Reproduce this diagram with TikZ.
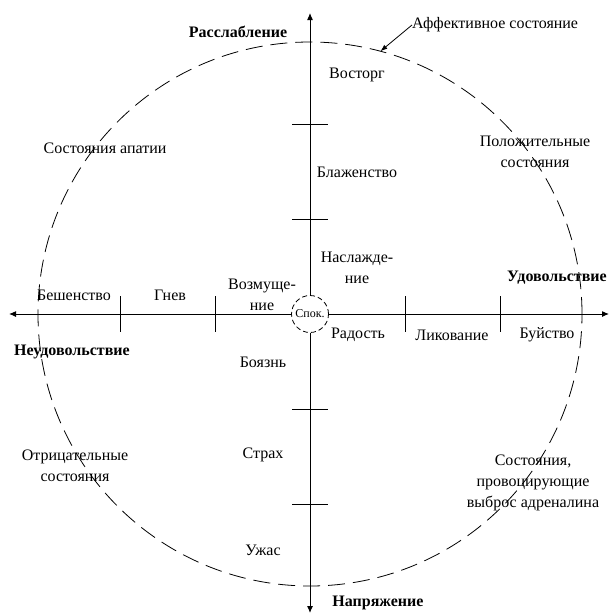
\documentclass[tikz,border=0pt]{standalone}
\usepackage{fontspec}
\setmainfont{Liberation Serif}
\usetikzlibrary{arrows.meta}
\begin{document}
\begin{tikzpicture}[x=1pt,y=-1pt,
  axis/.style={line width=1pt,-{Latex[length=7pt,width=6pt]}},
  tick/.style={line width=1pt},
  lbl/.style={font=\fontsize{16}{21}\selectfont,align=center,inner sep=0pt},
  blbl/.style={font=\fontsize{16}{21}\selectfont\bfseries,align=center,inner sep=0pt}]
\useasboundingbox (0,0) rectangle (610,614);
\coordinate (o) at (310,314);
\draw[line width=0.8pt,dash pattern=on 17pt off 8pt] (o) circle (272pt);
\node[circle,draw,line width=0.8pt,dash pattern=on 5pt off 3pt,minimum size=37pt,inner sep=0pt,
  font=\fontsize{12}{13}\selectfont] (spok) at (o) {Спок.};

% axes
\coordinate (top) at (310,13);
\coordinate (bot) at (310,613);
\coordinate (lft) at (9,314);
\coordinate (rgt) at (609,314);
\draw[axis] (spok) -- (top);
\draw[axis] (spok) -- (bot);
\draw[axis] (spok) -- (lft);
\draw[axis] (spok) -- (rgt);

% ticks
\foreach \d in {95,190}{
\draw[tick] ({310+\d},296) -- ({310+\d},332);
\draw[tick] ({310-\d},296) -- ({310-\d},332);
\draw[tick] (292,{314+\d}) -- (328,{314+\d});
\draw[tick] (292,{314-\d}) -- (328,{314-\d});
}

% poles
\node[blbl] (relax) at (238,32) {Расслабление};
\node[blbl] (tens) at (378,603) {Напряжение};
\node[blbl] (pleas) at (557,278) {Удовольствие};
\node[blbl] (displ) at (72,352) {Неудовольствие};

% states along the axes
\node[lbl] (ecst) at (357,75) {Восторг};
\node[lbl] (bliss) at (357,172) {Блаженство};
\node[lbl] (enjoy) at (357,268) {Наслажде-\\ние};
\node[lbl] (joy) at (358,335) {Радость};
\node[lbl] (exult) at (452,335) {Ликование};
\node[lbl] (riot) at (547,335) {Буйство};
\node[lbl] (rage) at (74,295) {Бешенство};
\node[lbl] (anger) at (170,295) {Гнев};
\node[lbl] (indig) at (262,295) {Возмуще-\\ние};
\node[lbl] (dread) at (263,362) {Боязнь};
\node[lbl] (fear) at (263,455) {Страх};
\node[lbl] (horror) at (263,550) {Ужас};

% quadrants
\node[lbl] (apathy) at (105,148) {Состояния апатии};
\node[lbl] (pos) at (535,152) {Положительные\\состояния};
\node[lbl] (neg) at (75,466) {Отрицательные\\состояния};
\node[lbl] (adren) at (533,483) {Состояния,\\провоцирующие\\выброс адреналина};

% affective state
\node[lbl,anchor=west] (aff) at (412,25) {Аффективное состояние};
\coordinate (affpt) at ([shift={(-75:272)}]o);
\draw[line width=0.8pt,-{Latex[length=7pt,width=5pt]}] (aff.west) -- (affpt);
\end{tikzpicture}
\end{document}
